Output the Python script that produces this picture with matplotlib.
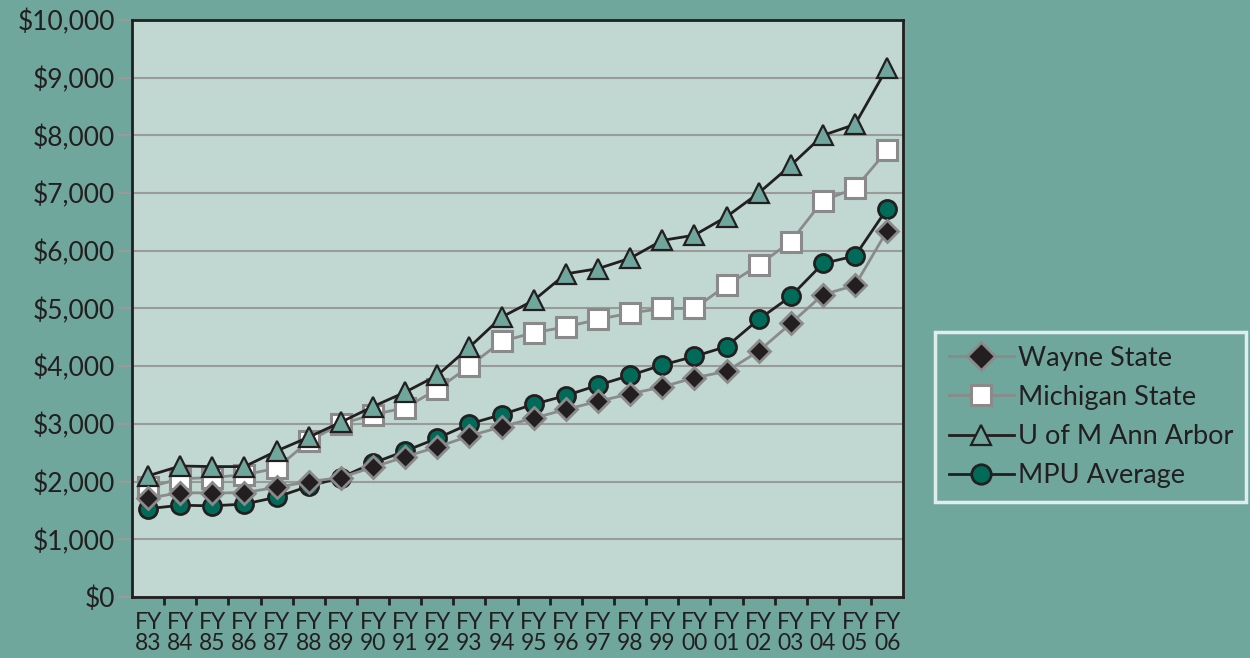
import numpy as np
import matplotlib.pyplot as plt
from matplotlib.ticker import FuncFormatter

# fiscal years on the x axis
years = ['83', '84', '85', '86', '87', '88', '89', '90', '91', '92', '93', '94',
         '95', '96', '97', '98', '99', '00', '01', '02', '03', '04', '05', '06']

# tuition per school
wayne_state = [1710, 1810, 1800, 1810, 1900, 2000, 2070, 2250, 2430, 2600, 2790, 2950,
               3100, 3250, 3390, 3520, 3640, 3800, 3910, 4260, 4740, 5240, 5400, 6350]
michigan_state = [1900, 2050, 2070, 2120, 2230, 2700, 3000, 3160, 3280, 3600, 4000, 4430,
                  4580, 4680, 4810, 4920, 5000, 5000, 5400, 5750, 6160, 6870, 7080, 7740]
u_of_m = [2100, 2270, 2260, 2260, 2530, 2770, 3030, 3300, 3550, 3840, 4330, 4850,
          5140, 5600, 5690, 5870, 6180, 6270, 6590, 7000, 7480, 8000, 8190, 9170]
mpu_average = [1530, 1590, 1580, 1610, 1730, 1920, 2070, 2320, 2530, 2750, 3000, 3160,
               3340, 3490, 3670, 3840, 4020, 4170, 4340, 4810, 5210, 5780, 5910, 6730]

teal = '#6fa79d'
plot_bg = '#c0d8d1'
dark = '#231f20'
gray = '#8a8a8a'

plt.rcParams['font.family'] = ['Lato', 'DejaVu Sans']

fig = plt.figure(figsize=(12.5, 6.58), dpi=100, facecolor=teal)
ax = fig.add_axes([0.1056, 0.0927, 0.617, 0.877])
ax.set_facecolor(plot_bg)

x = np.arange(len(years))

ax.plot(x, wayne_state, color=gray, lw=2, marker='D', ms=11, mfc=dark, mec=gray,
        mew=2, label='Wayne State', zorder=4)
ax.plot(x, michigan_state, color=gray, lw=2, marker='s', ms=14, mfc='white', mec=gray,
        mew=2.2, label='Michigan State', zorder=3)
ax.plot(x, u_of_m, color=dark, lw=2, marker='^', ms=15, mfc=teal, mec=dark,
        mew=1.6, label='U of M Ann Arbor', zorder=3)
ax.plot(x, mpu_average, color=dark, lw=2, marker='o', ms=13, mfc='#006b58', mec=dark,
        mew=2, label='MPU Average', zorder=3.5)

ax.set_xlim(-0.5, len(years) - 0.5)
ax.set_ylim(0, 10000)
ax.set_yticks(np.arange(0, 10001, 1000))
ax.yaxis.set_major_formatter(FuncFormatter(lambda v, p: '${:,.0f}'.format(v)))
ax.grid(axis='y', color='#9a9a9a', lw=1.5, zorder=1)
ax.tick_params(axis='y', length=10, width=1.5, color='#9a9a9a', labelsize=19,
               labelcolor=dark, pad=2)

ax.set_xticks(x)
ax.set_xticklabels(['FY\n' + y for y in years], linespacing=1.0)
ax.set_xticks(np.arange(0.5, len(years) - 0.5, 1), minor=True)
ax.tick_params(axis='x', which='major', length=0, labelsize=16.5, labelcolor=dark, pad=11)
ax.tick_params(axis='x', which='minor', length=6, width=2, color=dark)

for s in ax.spines.values():
    s.set_color(dark)
    s.set_linewidth(2)

leg = fig.legend(loc='center left', bbox_to_anchor=(0.748, 0.231, 0.249, 0.2705),
                 mode='expand', borderaxespad=0, frameon=True, fancybox=False,
                 fontsize=19.5, handlelength=2.4, handletextpad=0.15, labelspacing=0.52,
                 borderpad=0.5, labelcolor=dark)
leg.get_frame().set_facecolor(teal)
leg.get_frame().set_edgecolor('white')
leg.get_frame().set_linewidth(2.5)
for h in leg.legend_handles:
    h.set_markersize(14)

fig.savefig('out.png', dpi=100, facecolor=teal)
